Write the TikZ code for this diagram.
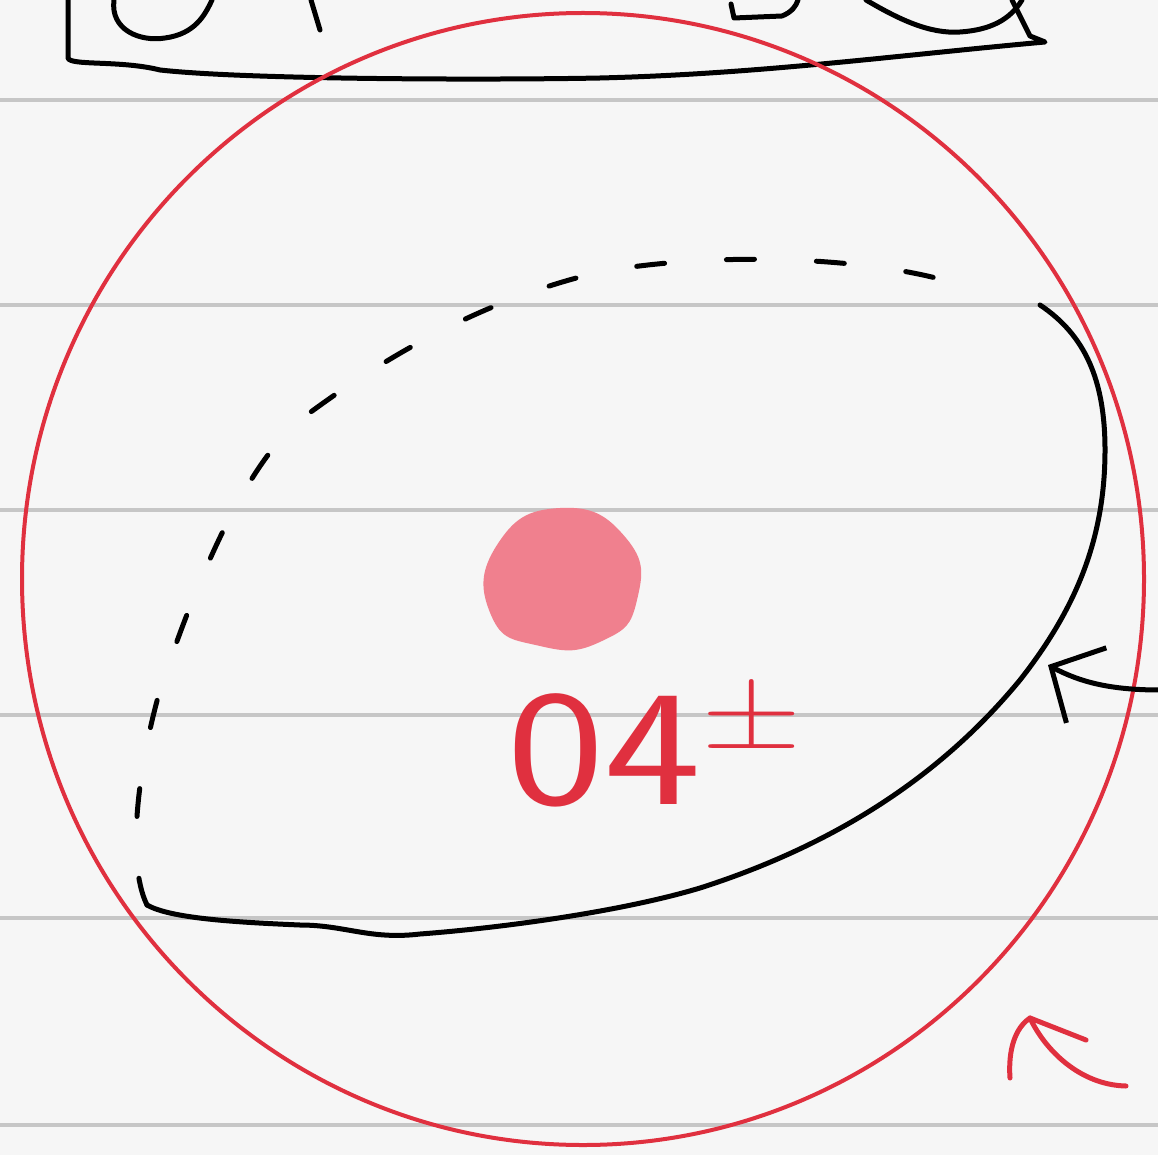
\documentclass[tikz,border=0pt]{standalone}
\usepackage{fontspec}
\usetikzlibrary{arrows.meta}
\definecolor{paper}{HTML}{F6F6F6}
\definecolor{rule}{HTML}{C6C6C6}
\definecolor{ink}{HTML}{E0303F}
\definecolor{blob}{HTML}{F0808E}
\begin{document}
\begin{tikzpicture}[x=1pt, y=-1pt,
  pen/.style={line width=5pt, line cap=round, line join=round},
  redpen/.style={line width=5pt, draw=ink, line cap=round, line join=round}]
  \fill[paper] (0,0) rectangle (1158,1155);
  \useasboundingbox (0,0) rectangle (1158,1155);
  % ruled paper
  \foreach \y in {100,305,510,715,918,1125}
    \draw[rule, line width=3.5pt] (0,\y) -- (1158,\y);
  % box at the top, cut by the page edge
  \draw[pen] (68,0) -- (68,58) .. controls (70,66) and (120,60) .. (160,70)
    .. controls (250,80) and (500,80) .. (600,78)
    .. controls (760,74) and (900,55) .. (1045,42) -- (1030,36) -- (1012,0);
  \draw[pen] (114,0) .. controls (110,30) and (140,42) .. (165,38) .. controls (195,34) and (205,15) .. (212,0);
  \draw[pen] (311,0) -- (320,30);
  \draw[pen] (731,4) -- (734,18) -- (782,16) .. controls (792,12) and (796,6) .. (798,0);
  \draw[pen] (866,0) .. controls (900,20) and (930,34) .. (960,32) .. controls (990,30) and (1010,20) .. (1022,0);
  % red sphere
  \draw[ink, line width=4pt] (583,579) ellipse (561 and 566);
  % orbital outline
  \draw[pen] (1040,305) .. controls (1085,335) and (1105,380) .. (1105,450)
    .. controls (1105,540) and (1075,610) .. (1020,680)
    .. controls (950,765) and (850,840) .. (700,888)
    .. controls (620,912) and (500,928) .. (420,934)
    .. controls (370,940) and (345,925) .. (300,925)
    .. controls (230,922) and (170,918) .. (147,905);
  \draw[pen, dash pattern=on 28pt off 62pt] (147,905) .. controls (125,860) and (140,760) .. (160,690)
    .. controls (190,600) and (240,470) .. (300,420)
    .. controls (380,360) and (480,300) .. (600,272)
    .. controls (720,250) and (880,258) .. (960,285);
  % nucleus
  \fill[blob] plot[smooth cycle, tension=0.9] coordinates {(560,508) (626,538) (637,600) (602,641) (540,646) (491,615) (497,545)};
  \node[text=ink, font=\sffamily\fontsize{165}{165}\selectfont, inner sep=0pt] (lbl) at (655,743) {\scalebox{1.25}[1]{04\raisebox{56pt}{\fontsize{110}{110}\selectfont ±}}};
  % pointer to the outline
  \coordinate (arrS) at (1160,690);
  \coordinate (arrE) at (1048,665);
  \draw[pen, -{Straight Barb[length=40pt, width=85pt, line width=5pt]}] (arrS) .. controls (1110,690) and (1080,682) .. (arrE);
  % red mark bottom right
  \draw[redpen] (1010,1078) .. controls (1008,1050) and (1015,1028) .. (1030,1018)
    .. controls (1045,1050) and (1080,1085) .. (1126,1086);
  \draw[redpen] (1030,1018) -- (1086,1040);
\end{tikzpicture}
\end{document}
